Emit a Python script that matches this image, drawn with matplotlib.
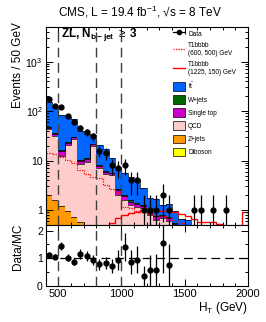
import numpy as np
import matplotlib
matplotlib.use("Agg")
import matplotlib.pyplot as plt
from matplotlib.patches import Patch
from matplotlib.lines import Line2D
from matplotlib.ticker import MultipleLocator, FixedLocator, FuncFormatter, LogLocator, NullFormatter

plt.rcParams['font.family'] = ['Liberation Sans', 'DejaVu Sans']
plt.rcParams['mathtext.fontset'] = 'custom'
plt.rcParams['mathtext.rm'] = 'Liberation Sans'
plt.rcParams['mathtext.it'] = 'Liberation Sans:italic'
plt.rcParams['mathtext.bf'] = 'Liberation Sans:bold'

# HT bins, 50 GeV wide
edges = np.arange(400, 2001, 50)
centers = edges[:-1] + 25

data = np.array([175, 128, 122, 78, 61, 46, 38, 31, 16, 14, 8, 7, 8, 4, 4, 1,
                 1, 1, 2, 1, 0, 0, 0, 1, 1, 0, 1, 0, 1, 0, 0, 0])

ttbar = np.array([107, 85, 68, 52, 39, 29.5, 24, 11, 12.2, 10.8, 5.3, 4.8, 3.65, 3.1, 2.8, 1.5,
                  0.85, 0.93, 0.5, 0.57, 0.4, 0.31, 0.34, 0.18, 0.1, 0.06, 0.05, 0.04, 0.03, 0.03, 0.02, 0.02])
wjets = np.array([2.0, 1.5, 1.0, 0.9, 0.8, 0.5, 0.4, 0.4, 0.3, 0.25, 0.2, 0.15, 0.15, 0.1, 0.08, 0.05,
                  0.05, 0.03, 0.03, 0.03, 0.02, 0.02, 0.01, 0.01, 0.01, 0.01, 0.01, 0.01, 0.01, 0.01, 0.01, 0.01])
singletop = np.array([3.5, 3.2, 3.0, 2.2, 2.5, 1.4, 1.5, 1.8, 0.9, 0.6, 0.5, 0.5, 0.3, 0.2, 0.15, 0.12,
                      0.08, 0.12, 0.05, 0.1, 0.03, 0.02, 0.02, 0.01, 0.01, 0.01, 0.01, 0.01, 0.01, 0.01, 0.01, 0.01])
qcd = np.array([41, 29.4, 11.4, 20, 26.3, 8.0, 8.9, 19.6, 6.8, 5.1, 4.9, 1.9, 1.5, 1.2, 1.1, 1.05,
                0.76, 0.59, 0.67, 0.58, 0.48, 0.28, 0.24, 0.09, 0.07, 0.05, 0.04, 0.03, 0.03, 0.02, 0.02, 0.02])
zjets = np.array([1.97, 1.55, 1.16, 0.9, 0.69, 0.54, 0.39, 0.33, 0.23, 0.18, 0.14, 0.11, 0.09, 0.07, 0.05, 0.04,
                  0.04, 0.03, 0.03, 0.02, 0.02, 0.02, 0.01, 0.01, 0.01, 0.01, 0.01, 0.01, 0.01, 0.01, 0.01, 0.01])
diboson = np.array([0.08, 0.07, 0.06, 0.05, 0.04, 0.03, 0.03, 0.02, 0.02, 0.02, 0.01, 0.01, 0.01, 0.01, 0.01, 0.01,
                    0.005, 0.005, 0.005, 0.005, 0.005, 0.005, 0.005, 0.005, 0.005, 0.005, 0.005, 0.005, 0.005, 0.005, 0.005, 0.005])

sig_600_500 = np.array([14.5, 13.3, 11.7, 10.5, 9.0, 6.5, 5.3, 4.7, 4.4, 3.2, 2.7, 2.3, 1.15, 1.08, 0.95, 0.9,
                        0.85, 0.8, 0.75, 0.7, 0.62, 0.55, 0.45, 0.4, 0.35, 0.3, 0.25, 0.2, 0.2, 0.15, 0.15, 0.2])
sig_1225_150 = np.array([0.05, 0.06, 0.08, 0.1, 0.12, 0.15, 0.2, 0.25, 0.3, 0.4, 0.56, 0.68, 0.8, 0.86, 0.93, 1.0,
                         1.04, 1.0, 0.97, 0.95, 0.93, 0.85, 0.75, 0.66, 0.58, 0.57, 0.57, 0.52, 0.45, 0.42, 0.42, 0.9])

bkg_names = ['Diboson', 'Z+jets', 'QCD', 'Single top', 'W+jets', r't$\bar{\mathrm{t}}$']
bkg_vals = [diboson, zjets, qcd, singletop, wjets, ttbar]
bkg_cols = ['#ffff00', '#ff9900', '#ffcccc', '#cc00cc', '#006600', '#0066ff']

fig = plt.figure(figsize=(2.66, 3.22), dpi=100)
ax = fig.add_axes([0.1714, 0.3012, 0.7609, 0.6149])
rax = fig.add_axes([0.1714, 0.1118, 0.7609, 0.1894])

# stacked backgrounds
base = np.full(len(centers), 1e-3)
for vals, col in zip(bkg_vals, bkg_cols):
    top = base + vals
    ax.stairs(top, edges, baseline=base, fill=True, color=col, lw=0)
    ax.stairs(top, edges, color='k', lw=0.5)
    base = top
total = base

ax.stairs(sig_600_500, edges, color='red', lw=0.9, ls=(0, (1, 1)))
ax.stairs(sig_1225_150, edges, color='red', lw=1.0)

# data
m = data > 0
lo = np.minimum(np.sqrt(data), data * 0.999)
hi = np.sqrt(data)
ax.errorbar(centers[m], data[m], yerr=[lo[m], hi[m]], fmt='o', color='k',
            ms=3.5, elinewidth=0.9, capsize=0, zorder=5)

ax.set_yscale('log')
ax.set_xlim(400, 2000)
ax.set_ylim(0.5, 5000)
ax.yaxis.set_major_locator(FixedLocator([1, 10, 100, 1000]))
ax.yaxis.set_minor_locator(LogLocator(base=10, subs=np.arange(2, 10)))
ax.yaxis.set_minor_formatter(NullFormatter())
labs = {1: '1', 10: '10', 100: '$10^2$', 1000: '$10^3$'}
ax.yaxis.set_major_formatter(FuncFormatter(lambda v, p: labs.get(int(round(v)), '')))

for a in (ax, rax):
    a.xaxis.set_major_locator(MultipleLocator(500))
    a.xaxis.set_minor_locator(MultipleLocator(100))
    a.tick_params(which='both', direction='in', top=True, right=True, width=0.7, labelsize=8, pad=2)
    a.tick_params(axis='y', labelsize=7.5)
    a.tick_params(which='major', length=5)
    a.tick_params(which='minor', length=2.5)
    for s in a.spines.values():
        s.set_linewidth(0.8)
    for xv in (500, 800, 1000):
        a.axvline(xv, color='0.25', lw=1.0, ls=(0, (7, 4)), zorder=6)
ax.tick_params(labelbottom=False)

# ratio
ratio = np.where(total > 0, data / total, 0)
rerr = np.sqrt(data) / total
rm = (data > 0) & (ratio < 2.2)
rax.errorbar(centers[rm], ratio[rm], yerr=rerr[rm], fmt='o', color='k',
             ms=3.5, elinewidth=0.9, capsize=0, zorder=5)
rax.axhline(1, color='k', lw=0.9, ls=(0, (7, 4)))
rax.set_xlim(400, 2000)
rax.set_ylim(0, 2.2)
rax.yaxis.set_major_locator(FixedLocator([0, 1, 2]))
rax.yaxis.set_minor_locator(MultipleLocator(0.5))

fig.text(0.527, 0.963, 'CMS, L = 19.4 fb$^{-1}$, √s = 8 TeV', ha='center', va='center', fontsize=8.5)
fig.text(0.068, 0.93, 'Events / 50 GeV', rotation=90, ha='center', va='top', fontsize=8.5)
fig.text(0.068, 0.233, 'Data/MC', rotation=90, ha='center', va='center', fontsize=8.5)
fig.text(0.932, 0.045, 'H$_{\\mathrm{T}}$ (GeV)', ha='right', va='center', fontsize=8.5)
ax.text(0.076, 0.96, 'ZL, N$_{\\mathbf{b-jet}}$ $\\geq$ 3', transform=ax.transAxes,
        ha='left', va='center', fontsize=8.5, fontweight='bold')

handles = [Line2D([], [], color='k', marker='o', ms=3, lw=0.9),
           Line2D([], [], color='red', lw=0.9, ls=(0, (1, 1))),
           Line2D([], [], color='red', lw=1.0)]
labels = ['Data', 'T1bbbb\n(600, 500) GeV', 'T1bbbb\n(1225, 150) GeV']
for name, col in zip(bkg_names[::-1], bkg_cols[::-1]):
    handles.append(Patch(facecolor=col, edgecolor='k', lw=0.5))
    labels.append(name)
ax.legend(handles, labels, loc='upper left', bbox_to_anchor=(0.629, 0.99), frameon=False,
          fontsize=4.7, borderpad=0, borderaxespad=0, handlelength=1.85, handleheight=1.7,
          labelspacing=0.65, handletextpad=0.5)

fig.savefig('out.png', dpi=100)
